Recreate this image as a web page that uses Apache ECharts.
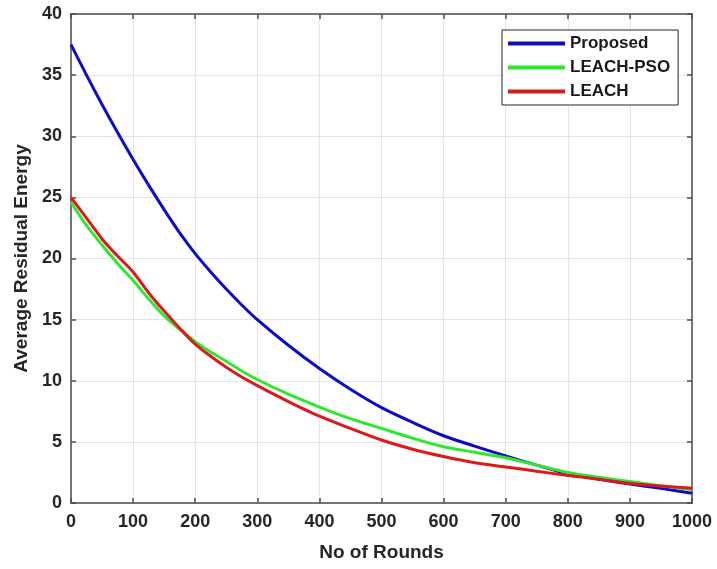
<!DOCTYPE html>
<html>
<head>
<meta charset="utf-8">
<script src="https://cdn.jsdelivr.net/npm/echarts@6/dist/echarts.min.js"></script>
<style>
html,body{margin:0;padding:0;background:#fff;}
#chart{width:717px;height:569px;}
</style>
</head>
<body>
<div id="chart"></div>
<script>
var rounds = [0,25,50,75,100,125,150,175,200,225,250,275,300,350,400,450,500,550,600,650,700,750,800,850,900,950,1000];
var proposed = [37.5,35.0,32.6,30.3,28.1,26.0,24.0,22.1,20.4,18.9,17.5,16.2,15.0,12.9,11.0,9.3,7.8,6.6,5.5,4.65,3.85,3.1,2.4,1.95,1.55,1.2,0.8];
var leachPso = [24.6,22.7,21.1,19.6,18.2,16.7,15.3,14.2,13.2,12.35,11.6,10.8,10.1,8.9,7.85,6.9,6.1,5.3,4.6,4.15,3.7,3.1,2.5,2.1,1.75,1.4,1.1];
var leach = [25.0,23.3,21.6,20.2,18.9,17.2,15.7,14.3,13.0,12.0,11.1,10.3,9.6,8.3,7.1,6.1,5.15,4.4,3.8,3.3,2.95,2.6,2.25,1.95,1.6,1.4,1.2];
var seriesNames = ['Proposed','LEACH-PSO','LEACH'];
var seriesColors = ['#0c0cc8','#2ee82e','#dc1a1a'];
var xTitle = 'No of Rounds';
var yTitle = 'Average Residual Energy';

function pairs(vals){ return rounds.map(function(r,i){ return [r, vals[i]]; }); }
var allVals = [proposed, leachPso, leach];

var chart = echarts.init(document.getElementById('chart'), null, {renderer:'canvas'});
var font = 'Liberation Sans, Arial, sans-serif';
var axisCommonX = { type:'value', min:0, max:1000, interval:100 };
var axisCommonY = { type:'value', min:0, max:40, interval:5 };
var lineStyleAxis = {color:'#4d4d4d', width:1.5};
var option = {
  animation:false,
  backgroundColor:'#ffffff',
  grid:{left:71, right:25, top:14, bottom:66, containLabel:false},
  legend:{
    orient:'vertical',
    left:502, top:30,
    data:seriesNames,
    icon:'rect',
    itemWidth:57, itemHeight:4,
    itemGap:7,
    padding:[5,8,5,6],
    borderColor:'#262626', borderWidth:1,
    backgroundColor:'#ffffff',
    textStyle:{fontFamily:font, fontWeight:'bold', fontSize:17, color:'#1a1a1a'}
  },
  xAxis:[
    Object.assign({}, axisCommonX, {
      position:'bottom',
      name:xTitle, nameLocation:'middle', nameGap:40,
      nameTextStyle:{fontFamily:font, fontWeight:'bold', fontSize:19, color:'#262626'},
      axisLine:{show:true, onZero:false, lineStyle:lineStyleAxis},
      axisTick:{show:true, inside:true, length:5, lineStyle:lineStyleAxis},
      axisLabel:{fontFamily:font, fontWeight:'bold', fontSize:18, color:'#262626', margin:10,
        formatter:function(v){ return String(v); }},
      splitLine:{show:true, lineStyle:{color:'#e4e4e4', width:1}}
    }),
    Object.assign({}, axisCommonX, {
      position:'top',
      axisLine:{show:true, onZero:false, lineStyle:lineStyleAxis},
      axisTick:{show:true, inside:true, length:5, lineStyle:lineStyleAxis},
      axisLabel:{show:false},
      splitLine:{show:false}
    })
  ],
  yAxis:[
    Object.assign({}, axisCommonY, {
      position:'left',
      name:yTitle, nameLocation:'middle', nameGap:36,
      nameTextStyle:{fontFamily:font, fontWeight:'bold', fontSize:19, color:'#262626'},
      axisLine:{show:true, onZero:false, lineStyle:lineStyleAxis},
      axisTick:{show:true, inside:true, length:5, lineStyle:lineStyleAxis},
      axisLabel:{fontFamily:font, fontWeight:'bold', fontSize:18, color:'#262626', margin:9},
      splitLine:{show:true, lineStyle:{color:'#e4e4e4', width:1}}
    }),
    Object.assign({}, axisCommonY, {
      position:'right',
      axisLine:{show:true, onZero:false, lineStyle:lineStyleAxis},
      axisTick:{show:true, inside:true, length:5, lineStyle:lineStyleAxis},
      axisLabel:{show:false},
      splitLine:{show:false}
    })
  ],
  series: seriesNames.map(function(n,i){
    return {
      name:n, type:'line', xAxisIndex:0, yAxisIndex:0,
      data:pairs(allVals[i]),
      showSymbol:false, symbol:'none', smooth:0.3,
      color:seriesColors[i],
      lineStyle:{color:seriesColors[i], width:3}
    };
  })
};
chart.setOption(option);
</script>
</body>
</html>
